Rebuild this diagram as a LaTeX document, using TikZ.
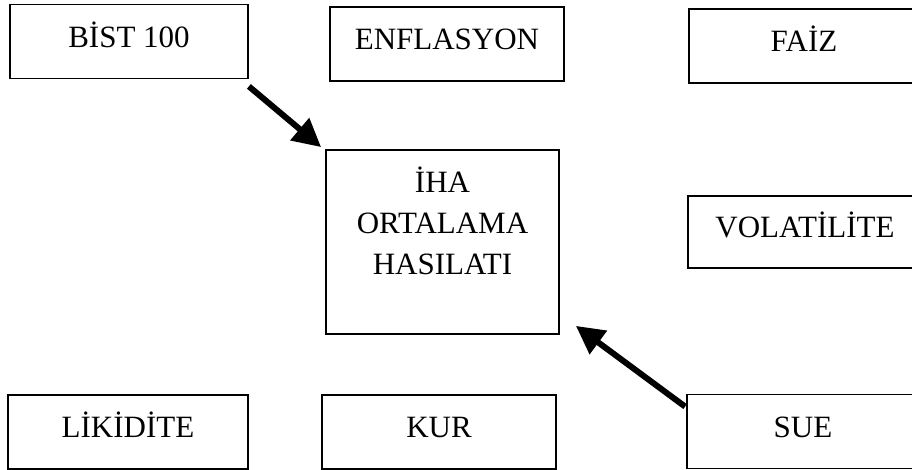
\documentclass[tikz,border=0pt]{standalone}
\usepackage{fontspec}
\setmainfont{Liberation Serif}
\usetikzlibrary{arrows.meta, calc}

\begin{document}
\begin{tikzpicture}[
  x=0.5pt, y=-0.5pt,
  font=\fontsize{15.5}{20.5}\selectfont,
  box/.style={draw, line width=0.9pt, inner sep=0pt, minimum width=117pt, minimum height=37pt, text height=11pt, text depth=5pt},
  arrow/.style={-{Triangle[length=14pt, width=14pt]}, line width=3pt}
]
\clip (0,0) rectangle (912,470);

% top row
\node[box, minimum width=119pt] (bist) at (129,41.5) {BİST 100};
\node[box] (enf) at (447,44) {ENFLASYON};
\node[box, minimum width=115pt] (faiz) at (804,46) {FAİZ};

% middle
\node[draw, line width=0.9pt, minimum width=116.5pt, minimum height=92pt] (iha) at (442.5,242) {};
\node[align=center, inner sep=0pt, anchor=north] (ihatext) at ([yshift=-8.5pt]iha.north) {İHA\\ORTALAMA\\HASILATI};
\node[box, minimum height=36pt] (vol) at (805,232) {VOLATİLİTE};

% bottom row
\node[box, minimum width=120pt] (lik) at (128,432) {LİKİDİTE};
\node[box] (kur) at (439,432) {KUR};
\node[box, minimum width=116pt] (sue) at (803,431.5) {SUE};

% arrows
\draw[arrow] ($(bist.south east)+(0,7)$) -- ($(iha.north west)+(-4,-2)$);
\draw[arrow] ($(sue.north west)+(-1,13)$) -- ($(iha.south east)+(16,-9)$);
\end{tikzpicture}
\end{document}
